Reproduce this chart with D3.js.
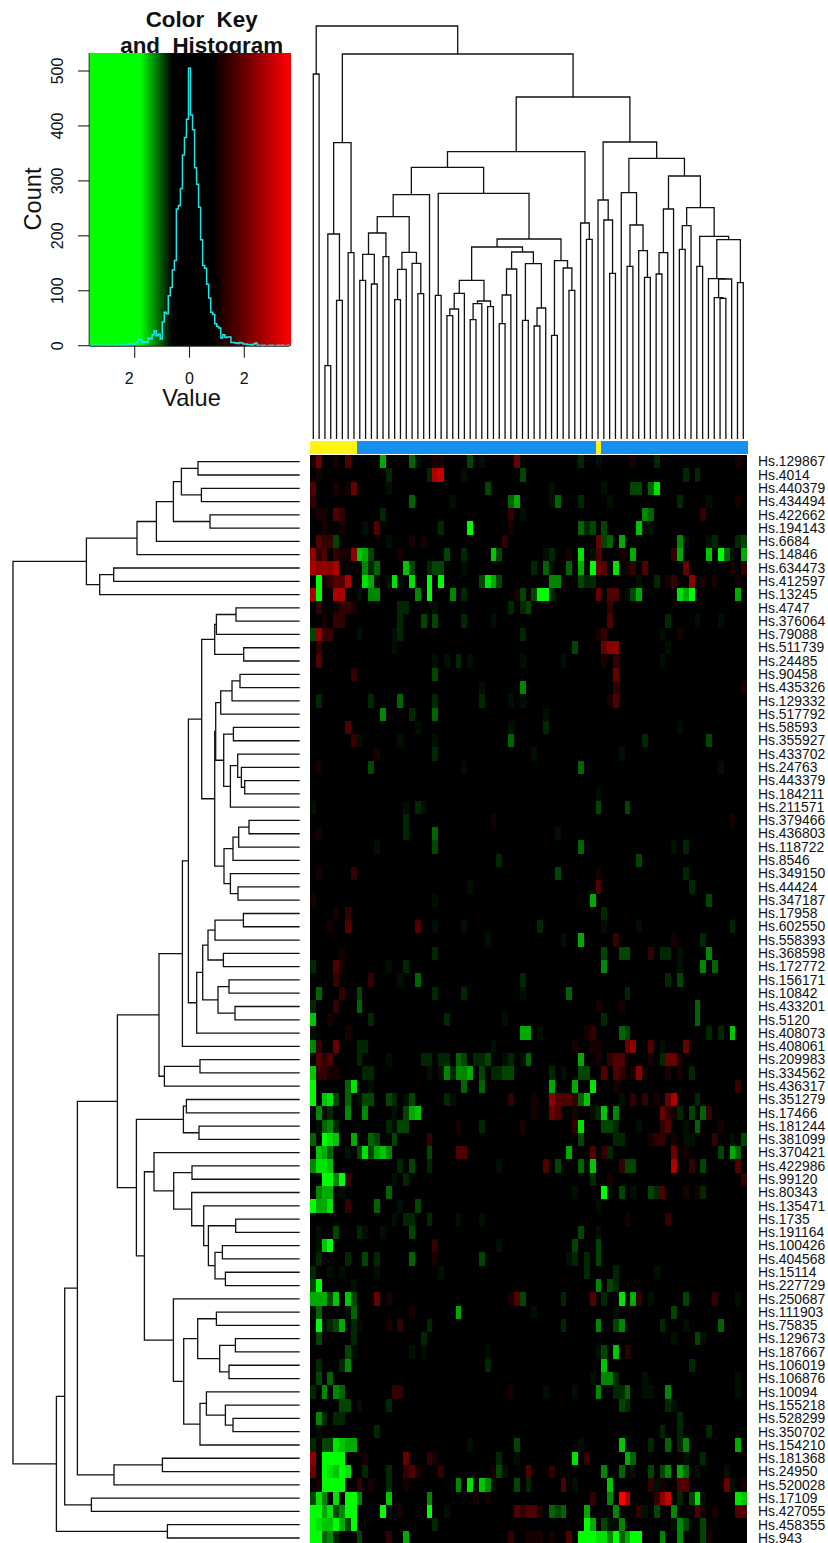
<!DOCTYPE html>
<html><head><meta charset="utf-8">
<script src="https://cdnjs.cloudflare.com/ajax/libs/d3/7.8.5/d3.min.js"></script>
<style>html,body{margin:0;padding:0;background:#fff;overflow:hidden}svg{display:block}text{font-family:"Liberation Sans",Arial,sans-serif;fill:#111}</style>
</head><body><svg id="c" width="828" height="1543"></svg>
<script>
const rowLabels = ["129867","4014","440379","434494","422662","194143","6684","14846","634473","412597","13245","4747","376064","79088","511739","24485","90458","435326","129332","517792","58593","355927","433702","24763","443379","184211","211571","379466","436803","118722","8546","349150","44424","347187","17958","602550","558393","368598","172772","156171","10842","433201","5120","408073","408061","209983","334562","436317","351279","17466","181244","381099","370421","422986","99120","80343","135471","1735","191164","100426","404568","15114","227729","250687","111903","75835","129673","187667","106019","106876","10094","155218","528299","350702","154210","181368","24950","520028","17109","427055","458355","943"].map(d=>"Hs."+d);

// sidebar group of each column: everything is blue except these yellow ones
const yellowColumns = [0,1,2,3,4,5,6,7,49];
const columnCount = 75;

// sparse heat values per row: <column><g|r><level>; unlisted cells are zero
const cellRows = [
"0r1 1r4 4r1 6r3 12g6 17g4 18g1 21r1 22r1 27g3 29g1 35r4 46g2 49g1 55r1 59g2 73r1",
"1r1 13g2 20g2 21r6 22r7 26g1 36g3 64g2 66g2",
"0r3 4r1 6r1 7r4 13g1 30g3 41g1 50g1 55g3 56g3 58g4 59g8",
"0r2 17g4 24g1 34g4 35g6 41g1 42g4 46g2 51g1 63g2 68g1 73r1",
"1r1 2r1 4r3 5r2 12g2 34r2 36g1 57g5 58g4 67r2",
"2r1 5r1 9g1 11r3 22g2 27g9 34r1 46g4 47g2 48g3 50g3 56g7 57g1 58g1",
"1r3 2r2 3r2 4g3 13g1 17r1 19r1 33r2 49r4 50g3 51g4 53g6 63g5 64g1 68g1 69g2 73g2 74g3",
"0r5 1r2 2r3 4r2 5r1 6r1 7r5 8g7 9g6 10g3 15r1 23g3 26g2 31g7 32g3 40g1 41g2 44r1 46g8 48g1 49r3 53r1 55g6 62r2 63g6 68g7 70g9 71g4 72g1 74g6",
"0r6 1r5 2r5 3r5 4r6 9g5 10g2 11g4 16g7 17g3 20g2 21g3 22g3 26g1 38g2 40g4 41g1 44g4 46g6 48g9 49r4 50r3 52g8 54r1 55r2 57r3 64r4 72r1 74r2",
"1g9 2r1 3r2 4r3 5r3 6r6 9g8 10g6 11g1 13g1 14g8 15g1 17g8 20g9 22g9 29g3 30g8 31g6 32g3 41g5 42g5 43r1 46g3 47g2 48g2 56g1 59g2 61r1 62r2 65r5 67r1 69r1 73r1",
"0r6 1g9 4r6 5r6 8g1 10g5 11g5 18g5 20g9 24g5 26g2 35r1 36g3 38g3 39g9 40g9 41g2 49r4 51r3 52r3 54g1 55g3 56g6 63g8 64g6 65g9 73g6",
"1r2 4r1 5r2 6r2 7r1 15g2 16g2 21g1 34g2 36g2 37g3 51r2",
"2r1 4r2 5r2 15g2 19g3 21g3 26g2 31g1 51r3 61g2 66g1 70g1",
"0g3 1r5 2r2 3r2 8g1 14g1 15g2 36g2 49r1 50r2 60g1 63r1",
"1r2 14g1 45g3 50r4 51r5 52r5 61g1",
"1r3 21g1 23g1 25g2 27g1 36g1 43g1 50r1 52r2 60g1",
"7r2 21g3 52r4",
"29g1 36g5 52r2 74r1",
"1g2 10g2 15g4 21g2 29g2 34g1 36g1 51r1 52r3",
"12g5 17g2 21g4 40g1",
"6r3 18g1 34g1 40g2 63g1",
"7r2 8g1 15g1 21g1 34g4 57g2 68g3",
"11r1 21g2 38g1 53g1",
"1r1 10g3 26g1 46g4 70g1",
"",
"49g1",
"0g1 16g1 18g2 19g1 49g3 54g3",
"16g2 31r1 72r1",
"1r1 16g2 21g4 42g1",
"11g1 21g3 46g4 62g1 64g2",
"32g2 56g3",
"1r1 7r2 42g3 49r1 64g2",
"27g1 49r3 65g2",
"0r1 21g1 48g6 68g3",
"4r1 6r2 50g2",
"3r1 6r3 18r3 21g1 26g1 39g2 50g1 56g1 72g2",
"30g1 43g1 46g6 52r2 62r1 67g2",
"5r1 21g2 50g3 53g3 54g3 58r2 60g2 61g2 63g1 68g5",
"0g2 4r3 5r1 13g1 16g2 50g5 63g1 67g5 69g4",
"4r2 10r2 15g1 18g4 36g2 61g2 63g3",
"1g4 5r2 8g3 21g2 26g2 36g1 44g4 54g2",
"0g2 4r2 8g4 49r1 53r1 66g4",
"0g7 3r1 10g2 23g2 33g1 50g2 66g4",
"0g1 6r1 36g6 37g6 39g1 47r1 48r2 53g4 54g3 68g2 70g2 72g7",
"0g5 1r2 4r4 8g2 9g2 31g1 45r1 48r1 49r1 54r4 55r5 58r3 60g1 64r4",
"1r3 2r2 3r3 8g2 13g1 19g2 20g2 22g2 23g2 25g4 26g3 28g2 29g2 30g3 33g1 34g2 36g1 37g4 46g6 49r1 51r2 52r3 53r3 58r1 60g2 61r4 62r4 63r1",
"0g7 1r2 2r2 3r1 4r1 9g2 10g2 20g1 22g1 23g5 24g2 25g5 26g5 27g6 29g3 31g2 32g2 33g3 34g3 41g2 43g1 46g3 47g3 50r3 52r3 53r2 55r1 56r5 57r1 61r1 63r1 65g2",
"0g9 6g4 7g8 10g1 26g4 29g4 41g6 45g6 48g8 52r1 73r2",
"0g9 2g7 3g8 4g3 6g4 8g1 9g3 10g3 13g3 14g2 16g1 17g3 23g2 24g1 34r2 38r1 41r5 42r3 43r3 44r3 45r2 46g4 47g7 53g1 55r2 57r2 59r1 61r4 62r6 66g2",
"1g5 2g1 3g2 6g5 9g5 14g1 16g3 17g6 18g7 38r1 41r4 42r3 45r1 48g1 49g2 50g7 52g5 60r4 61r2 62r1 63g2 65g3 67g4 68r2",
"1g1 2g4 3g5 4g2 13g2 14g1 15g3 16g3 25r1 29g2 36r1 45r2 46g8 50g3 51g3 52g2 56g1 60r2 61r3 64g1 66g4 70r1",
"0g4 2g9 3g8 4g7 7g6 10g4 11g3 14g3 20r2 46g3 52g2 53g2 58r1 59r2 60r2 62r1 64g1 65g1 69r2 72g1 74g3",
"1g7 2g6 3g4 6g1 8g3 9g8 10g3 11g6 12g7 13g5 20g3 25r3 26r3 44g6 48r3 50r2 51g2 62r4 64r1 70g3 72g6 73g4",
"0g5 1g8 2g8 3g7 15g2 17g3 20g2 32g1 40r3 42g3 46g4 47g1 48g7 53r2 54g3 55g3 62r6 65r2 67g3 73r3",
"2g9 3g9 4g5 5g9 6r2 14g1 16g2 48g2 51r1 74r2",
"1g5 2g6 3g6 5g1 13g4 45g1 50g9 51g1 53g3 55g1 58g3 59g2 60r3 64r1 66r1 67g2",
"0g9 1g6 2g6 3g8 6r2 11g4 15g1 18g3 49g1",
"14g1 16g2 17g2 20g2 25g1 29g1 54r1 61r2",
"1g1 4g3 8g2 9g1 12g1 17g3 46g3 49g1",
"1g1 2g7 3g9 21r2 32g1 45g3 49g3",
"1g2 6g2 9g3 11g2 17g4 21r1 29g3 44g1 45g2 47g2 49g3",
"0g2 3g1 5g1 11g1 22g1 47g2 52g2 59g1",
"0g3 1g9 7g1 49g5 51g3 52g2",
"0g6 1g6 2g6 3g3 4g7 6g7 7g3 11r4 13r1 34r1 35r3 36g3 43g2 48r3 50g2 53g8 55g6 56r2 58g1 64g3 69r2 73g1",
"0g1 1g4 6g1 7g4 17r1 25g6 38g1 52g1 62g3",
"1g9 2g1 3g2 4g3 5g6 7g2 8r1 13r1 15r2 20g2 43g2 49g5 52g3 53g5 60g2 64g1 70g4",
"1g3 7g2 19g2 62g1 66g3 67g1",
"6g3 7g1 17g1 19g1 30g1 49g1 50g3 52g7 54r2",
"1g2 5g2 6g5 30g2 50g7 65g2",
"1g3 3g4 48g1 50g5 51g5 52g2 57g1 73g1",
"0g2 2g5 4g5 5g4 14r2 15r2 34r1 40g1 45g1 49g5 52g2 53g2 54g4 57g1 58g1 61g5 73g1",
"5g3 6g3 8g1 13g2 53g3 54g2 61g2 62g1",
"1g5 2g2 4g2 5g2 63g2",
"1g1 11g2 60g2 63g2 68g2",
"0g2 2g3 3g3 4g8 5g7 6g6 7g6 27g1 35g3 46g1 53g7 58g2 61g4 63g2 64g5 73g6",
"0r5 2g9 3g9 4g9 5g9 9r1 16r4 20r2 21r1 32g2 35g1 45g8 47r2 54g6 55g4 64g1 67g2",
"0r4 2g9 3g8 4g7 5g9 6g8 9g2 13g2 16r2 17r3 18r1 22r2 31r1 32g3 33g1 37r3 41r2 50g5 53g4 55g1 58g3 60g3 61g5 63g6 64g4 66g1 71g1",
"1r1 2g9 3g9 4g9 5g9 8r2 10r1 13g2 16r1 25g5 27g8 28g1 29g7 30g5 31g1 35g3 37g2 43r3 45g1 51g7 58r2 59g1 60r1 63r3 64r3 71r4 72g1 74r1",
"0g3 1g8 2g5 4g8 6g9 7g9 8g5 13g7 20g5 28r1 30r1 48r2 51g5 53r9 54r6 59r2 60r5 61r7 63g2 65g3 66g8 67g1 73g8 74g7",
"0g9 1g9 2g6 3g8 4g3 5g5 6g9 7g9 12g9 13g1 15r1 20g9 23g1 35r3 36r2 37r3 38r3 39r1 41g4 42g3 43g4 47g6 52g5 56r2 57g1 59g3 62g5 66r3 67r1 69r1 73r3 74r3",
"0g9 1g8 2g7 3g7 4g9 5g6 6g3 7g9 21g2 47g9 48g6 50g3 51g1 52g1 53g5 62g1 63g5 64g3 67g3",
"0g9 1g9 2g4 3g5 4g2 8g3 13r2 16g6 34r2 37r1 38r1 39r1 41r1 44r3 46g9 47g9 48g9 49g8 50g8 51g5 52g9 53g4 54g6 55g9 56g9 60g5 63g5 67g3 68r1"
];
// value of each level (index 1..9)
const greenLevelValues = [0,-0.72,-0.83,-0.96,-1.10,-1.26,-1.42,-1.54,-1.67,-1.8];
const redLevelValues = [0,1.09,1.40,1.73,2.0,2.39,2.72,3.03,3.34,3.65];

// colour key
const keyStops = [-3.65,-1.8,-0.65,0.85,3.65];
const keyColors = ["#00ff00","#00ff00","#000000","#000000","#ff0000"];
const keyXTicks = [-2,0,2];
const keyYTicks = [0,100,200,300,400,500];

// histogram counts for the 99 bins, from the left edge of the key
const histLeft = [2,1,1,0,1,1,0,1,0,1,1,0,0,1,1,0,1,2,1,1,3,4,3,3,6,12,10,6,7,6,14,12,20,27,18,21,12,43,61,58,91,106,138,155,249,255,286,347,379,412];
const histPeak = 505;
const histRight = [420,393,324,294,252,193,146,141,112,87,61,57,40,35,32,14,20,15,16,16,6,6,5,4,6,5,3,3,2,2,1,3,5,1,0,1,1,0,0,1,1,0,0,1,0,1,0,0,1];
const histCounts = histLeft.slice(1).concat([histPeak], histRight);

// column dendrogram: [merge height, left, right], 0 = leaf
const colTree = [413,[365,0,0],[385,
 [296.3,[205,[73.3,0,0],[138.7,0,0]],[186.3,0,0]],
 [342,
  [287.3,
   [271.7,
    [244.3,
     [222.3,
      [206,[184.7,[158.7,0,0],[155,0,0]],[182.3,0,0]],
      [186.7,[169.7,[139.3,0,0],0],[175.7,0,[145.3,0,0]]]],
     0],
    [245.7,
     [143.7,0,0],
     [200,
      [192,
       [158.7,
        [145.7,[130,[123.3,0,0],0],0],
        [138,[135.3,[119.3,0,0],0],[132.3,0,0]]],
       [187,
        [170,[144,[115.3,0,0],0],0],
        [175.3,[118.7,0,0],[131,[113,0,0],0]]]],
      [178.3,[103.7,0,0],[171,0,[148.7,0,0]]]]]],
   [216,0,[199.7,0,0]]],
  [297,
   [239,0,[219,0,[165.7,0,0]]],
   [280.7,
    [246.3,0,[214,[172.7,0,0],[188.3,0,[161.7,0,0]]]],
    [263,
     [230,[186.3,[165,0,0],0],0],
     [231.3,
      [213.3,[189.7,0,0],0],
      [202.7,
       [172.7,0,0],
       [199.3,
        [160.3,0,[160,[141.3,0,[140.7,0,0]],0]],
        [156.3,0,0]]]]]]]]]];

// row dendrogram
const rowTree = [286.7,
 [213.3,
  [162.7,[143.3,[126.3,[118.3,[101.7,0,0],[98.3,0,0]],[89.7,0,0]],0],0],
  [200,[186,0,0],0]],
 [243.3,
  [235,
   [222.3,
    [182.3,
     [140.7,
      [117.3,
       [111.3,
        [98,
         [85,[83.3,[63.7,0,0],0],[56,0,0]],
         [85,
          [84,
           [79,[67.7,[59.7,0,0],0],0],
           [76,[66.3,0,0],[69.3,[62,0,[58.3,0,[55,0,0]]],0]]],
          [75.7,[66.7,[61,[50.7,0,0],0],0],[69.3,0,[61.7,0,0]]]]],
        [103,[97,[91.7,[84.7,[56.3,0,0],0],[76.3,0,0]],[81.7,[70.7,0,0],[64.7,0,0]]],0]],
       0],
      [135.3,[99.7,0,0],0]],
     [163.3,
      [116.3,[113.3,0,0],[100.7,0,0]],
      [155.3,
       [145.7,0,[126,[107.7,0,0],[108,0,[96,0,[91.3,[64,0,0],[84.7,[77.3,0,0],[74.3,0,0]]]]]]],
       [126.3,0,[116,
         [102,[83.3,0,0],[80,[64.3,0,0],[70.7,0,0]]],
         [99.7,[93.3,0,[74.3,0,[66.7,0,0]]],0]]]]]],
    [185.7,[137.3,0,0],0]],
   [208.3,0,0]],
  [132.3,0,0]]];

// ---------- drawing ----------
const svg = d3.select("#c");
const heatX = d3.scaleBand().domain(d3.range(columnCount)).range([310,747]).paddingInner(0).paddingOuter(0);
const heatY = d3.scaleBand().domain(d3.range(rowLabels.length)).range([455,455+82*13.29]);
const color = d3.scaleLinear().domain(keyStops).range(keyColors).clamp(true);

// title sits under the key, which cuts its descenders
const title = svg.append("g").attr("font-weight","bold").attr("text-anchor","middle").attr("font-size",22.4);
title.append("text").attr("x",201.7).attr("y",27).style("white-space","pre").attr("font-weight","bold").text("Color  Key");
title.append("text").attr("x",201.7).attr("y",53).style("white-space","pre").attr("font-weight","bold").text("and  Histogram");

// key
const keyX = d3.scaleLinear().domain([-3.65,3.65]).range([89.5,289.5]);
const keyY = d3.scaleLinear().domain([0,500]).range([345.7,71]);
const keyBins = d3.range(100).map(i=>-3.65+7.3*i/100);
svg.append("g").attr("shape-rendering","crispEdges").selectAll("rect").data(keyBins).join("rect")
 .attr("x",d=>keyX(d)).attr("width",d=>keyX(d+0.073)-keyX(d)+1)
 .attr("y",53).attr("height",293).attr("fill",d=>color(d+0.0365));

const binW = 7.3/99;
const histPts = histCounts.map((c,i)=>[-3.65+binW*i,c]);
const step = d3.line().x(d=>keyX(d[0])).y(d=>keyY(d[1])).curve(d3.curveStepAfter);
svg.append("path").attr("d",step(histPts.concat([[3.65,histCounts[histCounts.length-1]]])))
 .attr("fill","none").attr("stroke","#1fe4e8").attr("stroke-width",1.5);

// axes
const ax = svg.append("g").attr("stroke","#222").attr("stroke-width",1.1);
ax.append("line").attr("x1",keyX(-3.65)-0.3).attr("x2",keyX(-3.65)-0.3).attr("y1",53).attr("y2",keyY(0));
ax.append("line").attr("x1",keyX(-3.65)).attr("x2",keyX(3.65)).attr("y1",keyY(0)+0.5).attr("y2",keyY(0)+0.5);
ax.selectAll(".ty").data(keyYTicks).join("line").attr("x1",78).attr("x2",keyX(-3.65)).attr("y1",d=>keyY(d)).attr("y2",d=>keyY(d));
ax.selectAll(".tx").data(keyXTicks).join("line").attr("x1",d=>keyX(d)).attr("x2",d=>keyX(d)).attr("y1",keyY(0)).attr("y2",keyY(0)+12);
svg.append("g").selectAll("text").data(keyYTicks).join("text").attr("font-size",16).attr("text-anchor","middle")
 .attr("transform",d=>`translate(63,${keyY(d)}) rotate(-90)`).text(d=>d);
svg.append("g").selectAll("text").data(keyXTicks).join("text").attr("font-size",16).attr("text-anchor","middle")
 .attr("x",d=>keyX(d)+(d<0?-5.5:0)).attr("y",384).text(d=>Math.abs(d));
svg.append("text").attr("font-size",23.6).attr("text-anchor","middle").attr("x",191.5).attr("y",406).text("Value");
svg.append("text").attr("font-size",23.6).attr("text-anchor","middle").attr("transform","translate(41,199) rotate(-90)").text("Count");

// sidebar
svg.append("g").attr("shape-rendering","crispEdges").selectAll("rect").data(d3.range(columnCount)).join("rect")
 .attr("x",d=>heatX(d)).attr("width",heatX.bandwidth()+1).attr("y",441).attr("height",13)
 .attr("fill",d=>yellowColumns.includes(d)?"#fff314":"#1491ef");

// heat cells
const cells = [];
cellRows.forEach((s,r)=>{
  const byCol = new Map();
  for(const m of s.matchAll(/(\d+)([gr])(\d)/g)) byCol.set(+m[1], (m[2]=="g"?greenLevelValues:redLevelValues)[+m[3]]);
  for(let c=0;c<columnCount;c++) cells.push({r,c,v:byCol.get(c)||0});
});
svg.append("g").attr("shape-rendering","crispEdges").selectAll("rect").data(cells).join("rect")
 .attr("x",d=>heatX(d.c)).attr("y",d=>heatY(d.r)).attr("width",heatX.bandwidth()+0.3).attr("height",heatY.bandwidth()+0.3)
 .attr("fill",d=>color(d.v));

// row labels
svg.append("g").selectAll("text").data(rowLabels).join("text").attr("font-size",13.9)
 .attr("x",758).attr("y",(d,i)=>heatY(i)+heatY.bandwidth()/2+4.7).text(d=>d);

// dendrograms
function layout(tree){
  const root = d3.hierarchy(tree, d=>Array.isArray(d)?d.slice(1):null);
  let n=0;
  root.eachAfter(node=>{
    if(!node.children){node.pos=n++;node.h=0;}
    else{node.pos=(node.children[0].pos+node.children[1].pos)/2;node.h=node.data[0];}
  });
  return root;
}
const colRoot = layout(colTree), rowRoot = layout(rowTree);
const colLeafX = d3.scaleLinear().domain([0,74]).range([313.3,743.3]);
const colH = d3.scaleLinear().domain([0,413]).range([439,26]);
const rowLeafY = d3.scaleLinear().domain([0,81]).range([461.7,1538]);
const rowH = d3.scaleLinear().domain([0,287]).range([299.7,12.7]);
const link = d3.line();
const colLinks = colRoot.descendants().filter(d=>d.children);
svg.append("g").attr("fill","none").attr("stroke","#111").attr("stroke-width",1.3).selectAll("path").data(colLinks).join("path")
 .attr("d",d=>{const [a,b]=d.children;return link([[colLeafX(a.pos),colH(a.h)],[colLeafX(a.pos),colH(d.h)],[colLeafX(b.pos),colH(d.h)],[colLeafX(b.pos),colH(b.h)]]);});
const rowLinks = rowRoot.descendants().filter(d=>d.children);
svg.append("g").attr("fill","none").attr("stroke","#111").attr("stroke-width",1.3).selectAll("path").data(rowLinks).join("path")
 .attr("d",d=>{const [a,b]=d.children;return link([[rowH(a.h),rowLeafY(a.pos)],[rowH(d.h),rowLeafY(a.pos)],[rowH(d.h),rowLeafY(b.pos)],[rowH(b.h),rowLeafY(b.pos)]]);});
</script></body></html>
